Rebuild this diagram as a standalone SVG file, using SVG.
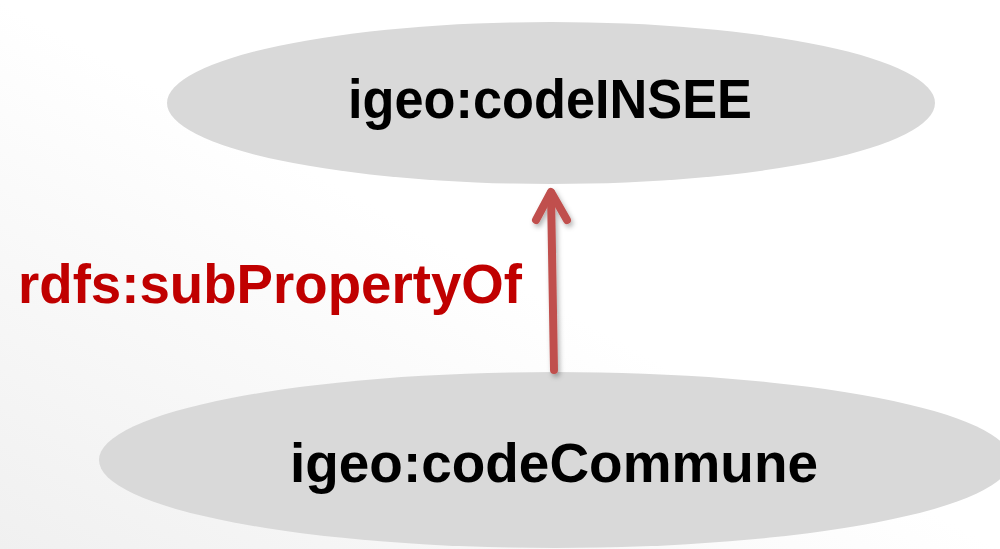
<svg xmlns="http://www.w3.org/2000/svg" width="1000" height="549" viewBox="0 0 1000 549">
  <defs>
    <linearGradient id="bg" x1="1" y1="0" x2="0" y2="1">
      <stop offset="0" stop-color="#ffffff"/>
      <stop offset="0.5" stop-color="#ffffff"/>
      <stop offset="1" stop-color="#f0f0f0"/>
    </linearGradient>
    <filter id="sh" x="-50%" y="-20%" width="200%" height="140%">
      <feDropShadow dx="2" dy="3" stdDeviation="2.5" flood-color="#000" flood-opacity="0.3"/>
    </filter>
  </defs>
  <style>
    .node { fill: #d9d9d9; }
    .lbl { font-family: "Liberation Sans", Arial, sans-serif; font-weight: bold; font-size: 56px; fill: #000; }
    .edge { stroke: #c0504d; stroke-width: 8; stroke-linecap: round; stroke-linejoin: round; fill: none; }
    .elbl { font-family: "Liberation Sans", Arial, sans-serif; font-weight: bold; font-size: 55px; fill: #c00000; }
  </style>
  <rect width="1000" height="549" fill="url(#bg)"/>
  <g id="node-codeINSEE">
    <ellipse class="node" cx="551" cy="103" rx="384" ry="81"/>
    <text class="lbl" x="550" y="118" text-anchor="middle" textLength="404" lengthAdjust="spacingAndGlyphs">igeo:codeINSEE</text>
  </g>
  <g id="node-codeCommune">
    <ellipse class="node" cx="555" cy="460" rx="456" ry="88"/>
    <text class="lbl" x="554" y="482" text-anchor="middle" textLength="528" lengthAdjust="spacingAndGlyphs">igeo:codeCommune</text>
  </g>
  <g id="connectors">
    <g filter="url(#sh)">
      <path class="edge" d="M554 370 L551 193"/>
      <path class="edge" d="M536 220 L551 192 L567 220"/>
    </g>
    <text class="elbl" x="18" y="303" textLength="504" lengthAdjust="spacingAndGlyphs">rdfs:subPropertyOf</text>
  </g>
</svg>
